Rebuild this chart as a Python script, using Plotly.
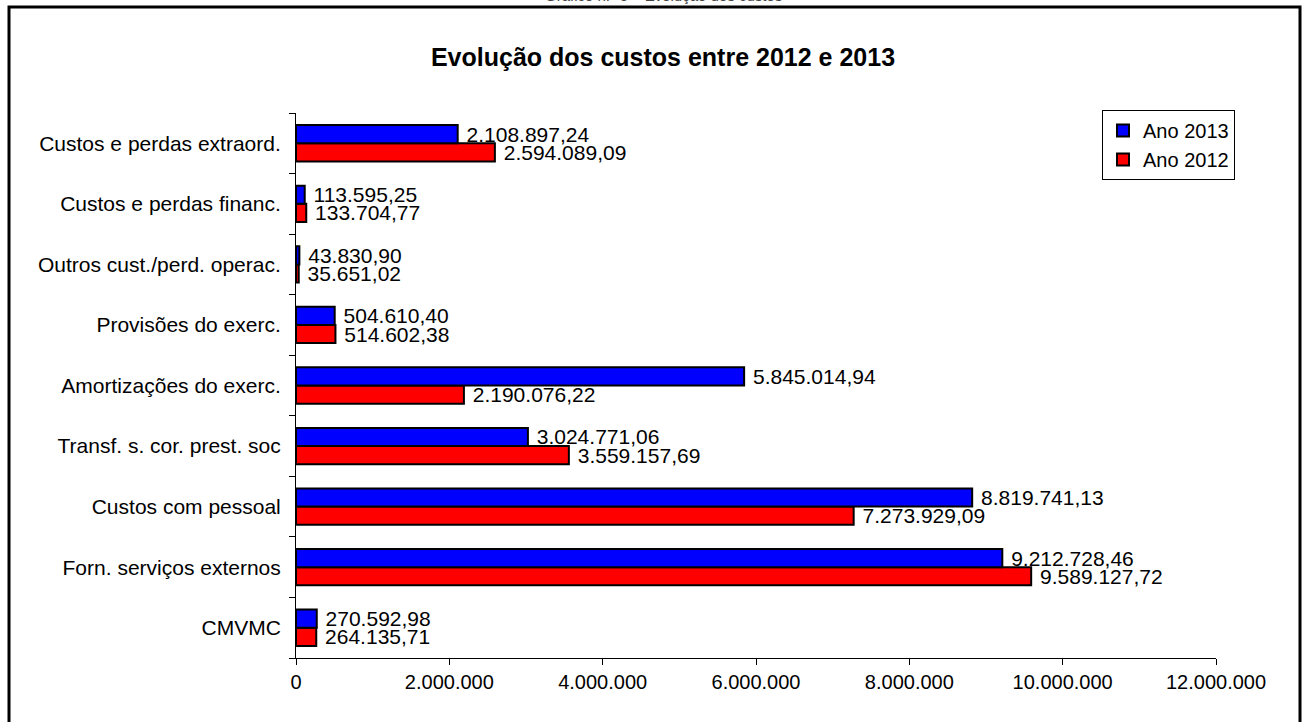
import plotly.graph_objects as go

categories = [
    "CMVMC",
    "Forn. serviços externos",
    "Custos com pessoal",
    "Transf. s. cor. prest. soc",
    "Amortizações do exerc.",
    "Provisões do exerc.",
    "Outros cust./perd. operac.",
    "Custos e perdas financ.",
    "Custos e perdas extraord.",
]
ano_2013 = [270592.98, 9212728.46, 8819741.13, 3024771.06, 5845014.94,
            504610.40, 43830.90, 113595.25, 2108897.24]
ano_2012 = [264135.71, 9589127.72, 7273929.09, 3559157.69, 2190076.22,
            514602.38, 35651.02, 133704.77, 2594089.09]
tick_vals = [0, 2000000, 4000000, 6000000, 8000000, 10000000, 12000000]
tick_text = ["0", "2.000.000", "4.000.000", "6.000.000", "8.000.000",
             "10.000.000", "12.000.000"]


def pt(v):
    s = f"{v:,.2f}"
    return "\u00a0" + s.replace(",", "X").replace(".", ",").replace("X", ".")


FONT = "Liberation Sans, Arial, sans-serif"
W, H = 1306, 722
L, R, T, B = 296, 1216, 113, 658

fig = go.Figure()
fig.add_trace(go.Bar(
    y=categories, x=ano_2012, name="Ano 2012", orientation="h",
    marker=dict(color="#ff0000", line=dict(color="black", width=2)),
    text=[pt(v) for v in ano_2012], textposition="outside",
    textfont=dict(size=21, color="black", family=FONT),
    constraintext="none", cliponaxis=False, hoverinfo="skip",
))
fig.add_trace(go.Bar(
    y=categories, x=ano_2013, name="Ano 2013", orientation="h",
    marker=dict(color="#0000ff", line=dict(color="black", width=2)),
    text=[pt(v) for v in ano_2013], textposition="outside",
    textfont=dict(size=21, color="black", family=FONT),
    constraintext="none", cliponaxis=False, hoverinfo="skip",
))


def px(xp):
    return (xp - L) / (R - L)


def py(yp):
    return (B - yp) / (B - T)


fig.update_layout(
    width=W, height=H,
    margin=dict(l=L, r=W - R, t=T, b=H - B, pad=0),
    paper_bgcolor="white", plot_bgcolor="white",
    font=dict(family=FONT, size=20, color="black"),
    barmode="group", bargap=0.4, bargroupgap=0,
    title=dict(text="<b>Evolução dos custos entre 2012 e 2013</b>",
               x=663 / W, xanchor="center", xref="container",
               y=1 - 57 / H, yanchor="middle", yref="container",
               font=dict(size=25, family=FONT, color="black")),
    legend=dict(x=px(1102), y=py(110), xanchor="left", yanchor="top",
                traceorder="reversed", bgcolor="white",
                bordercolor="black", borderwidth=1,
                font=dict(size=20, family=FONT, color="black"),
                itemwidth=30, tracegroupgap=4),
    showlegend=True,
    xaxis=dict(range=[0, 12000000], tickvals=tick_vals, ticktext=tick_text,
               showgrid=False, zeroline=False, showline=True,
               linecolor="black", linewidth=1, ticks="outside",
               ticklen=6, tickcolor="black",
               tickfont=dict(size=20, family=FONT, color="black")),
    yaxis=dict(showgrid=False, zeroline=False, showline=True,
               linecolor="black", linewidth=1, ticks="outside",
               ticklen=6, tickcolor="black", tickson="boundaries",
               ticklabelstandoff=10,
               tickfont=dict(size=21, family=FONT, color="black")),
    shapes=[dict(type="rect", xref="paper", yref="paper",
                 x0=px(9), x1=px(1300), y0=py(740), y1=py(7),
                 line=dict(color="black", width=3), fillcolor="rgba(0,0,0,0)",
                 layer="above")],
    annotations=[dict(text="Gráfico n.º 5 – Evolução dos custos",
                      xref="paper", yref="paper", x=px(663), y=py(6),
                      xanchor="center", yanchor="bottom", showarrow=False,
                      font=dict(size=15, family=FONT, color="#444444"))],
)

fig.write_html("out.html")
